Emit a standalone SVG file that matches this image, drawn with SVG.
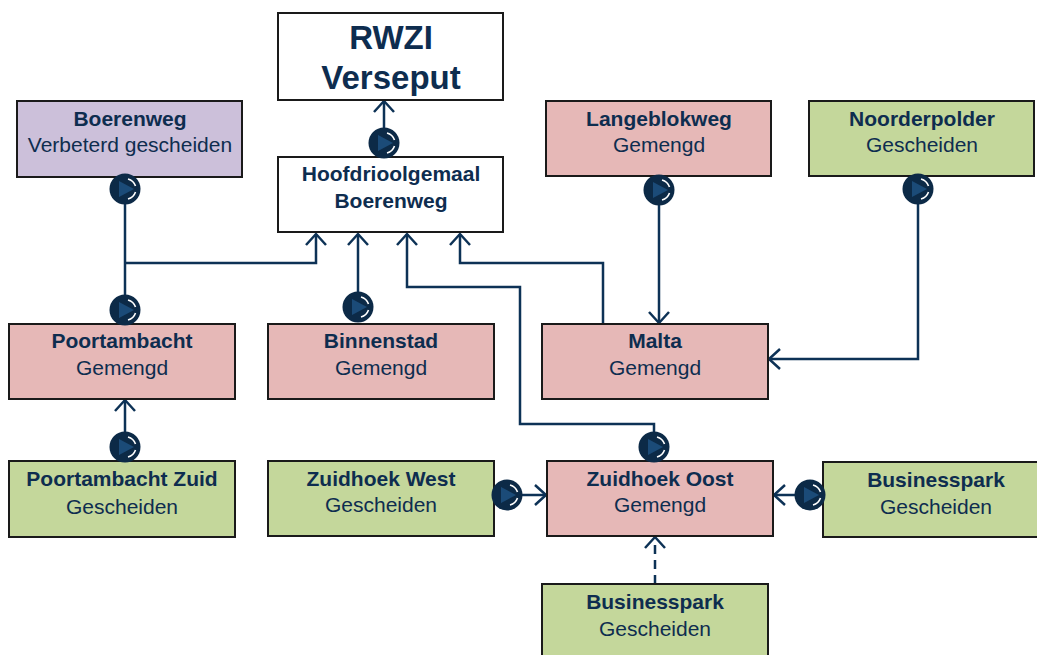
<svg xmlns="http://www.w3.org/2000/svg" xmlns:xlink="http://www.w3.org/1999/xlink" width="1037" height="655" viewBox="0 0 1037 655">
<style>
.box{stroke:#1a1a1a;stroke-width:2}
.white{fill:#ffffff}
.pink{fill:#e6b8b7}
.green{fill:#c4d79b}
.purple{fill:#ccc0da}
text{font-family:"Liberation Sans",Arial,sans-serif;fill:#0e2d4f;text-anchor:middle}
.b{font-weight:bold;font-size:21px}
.r{font-size:21px}
.big{font-weight:bold;font-size:33px}
.con{fill:none;stroke:#0d3256;stroke-width:2.5}
.dash{stroke-dasharray:9,6}
</style>
<defs>
<marker id="arr" markerUnits="userSpaceOnUse" markerWidth="24" markerHeight="24" refX="12" refY="12" orient="auto" viewBox="0 0 24 24">
<path d="M1,2 L12,12 L1,22" fill="none" stroke="#0d3256" stroke-width="2.5"/>
</marker>
<g id="pump">
<circle r="15.5" fill="#0c2a47"/>
<path d="M-6,-8 L9,0 L-6,8 Z" fill="#1b4b78"/>
<path d="M3,-10 A11,11 0 0 1 10.5,-3" fill="none" stroke="#ffffff" stroke-width="1.6"/>
<path d="M10.5,3 A11,11 0 0 1 3,10" fill="none" stroke="#ffffff" stroke-width="1.6"/>
</g>
</defs>

<g id="connectors">
<line class="con" x1="384" y1="143" x2="384" y2="101" marker-end="url(#arr)"/>
<polyline class="con" points="125,189 125,310"/>
<polyline class="con" points="125,263 316,263 316,234" marker-end="url(#arr)"/>
<line class="con" x1="358" y1="307" x2="358" y2="234" marker-end="url(#arr)"/>
<polyline class="con" points="603,323 603,263 460,263 460,234" marker-end="url(#arr)"/>
<polyline class="con" points="654,447 654,424 520,424 520,287 407,287 407,234" marker-end="url(#arr)"/>
<line class="con" x1="659" y1="190" x2="659" y2="323" marker-end="url(#arr)"/>
<polyline class="con" points="918,189 918,359 769,359" marker-end="url(#arr)"/>
<line class="con" x1="125" y1="447" x2="125" y2="400" marker-end="url(#arr)"/>
<line class="con" x1="507" y1="495" x2="546" y2="495" marker-end="url(#arr)"/>
<line class="con" x1="810" y1="495" x2="774" y2="495" marker-end="url(#arr)"/>
<line class="con dash" x1="655" y1="584" x2="655" y2="537" marker-end="url(#arr)"/>
</g>

<g id="rwzi">
<rect class="box white" x="278" y="13" width="225" height="87"/>
<text class="big" x="391" y="49">RWZI</text>
<text class="big" x="391" y="89">Verseput</text>
</g>
<g id="hoofdrioolgemaal">
<rect class="box white" x="278" y="157" width="225" height="75"/>
<text class="b" x="391" y="181">Hoofdrioolgemaal</text>
<text class="b" x="391" y="208">Boerenweg</text>
</g>
<g id="boerenweg">
<rect class="box purple" x="17" y="101" width="225" height="76"/>
<text class="b" x="130" y="126">Boerenweg</text>
<text class="r" x="130" y="152">Verbeterd gescheiden</text>
</g>
<g id="langeblokweg">
<rect class="box pink" x="546" y="101" width="225" height="75"/>
<text class="b" x="659" y="126">Langeblokweg</text>
<text class="r" x="659" y="152">Gemengd</text>
</g>
<g id="noorderpolder">
<rect class="box green" x="809" y="101" width="225" height="75"/>
<text class="b" x="922" y="126">Noorderpolder</text>
<text class="r" x="922" y="152">Gescheiden</text>
</g>
<g id="poortambacht">
<rect class="box pink" x="9" y="324" width="226" height="75"/>
<text class="b" x="122" y="348">Poortambacht</text>
<text class="r" x="122" y="375">Gemengd</text>
</g>
<g id="binnenstad">
<rect class="box pink" x="268" y="324" width="226" height="75"/>
<text class="b" x="381" y="348">Binnenstad</text>
<text class="r" x="381" y="375">Gemengd</text>
</g>
<g id="malta">
<rect class="box pink" x="542" y="324" width="226" height="75"/>
<text class="b" x="655" y="348">Malta</text>
<text class="r" x="655" y="375">Gemengd</text>
</g>
<g id="poortambacht-zuid">
<rect class="box green" x="9" y="461" width="226" height="76"/>
<text class="b" x="122" y="486">Poortambacht Zuid</text>
<text class="r" x="122" y="514">Gescheiden</text>
</g>
<g id="zuidhoek-west">
<rect class="box green" x="268" y="461" width="226" height="75"/>
<text class="b" x="381" y="486">Zuidhoek West</text>
<text class="r" x="381" y="512">Gescheiden</text>
</g>
<g id="zuidhoek-oost">
<rect class="box pink" x="547" y="461" width="226" height="75"/>
<text class="b" x="660" y="486">Zuidhoek Oost</text>
<text class="r" x="660" y="512">Gemengd</text>
</g>
<g id="businesspark-oost">
<rect class="box green" x="823" y="462" width="226" height="75"/>
<text class="b" x="936" y="487">Businesspark</text>
<text class="r" x="936" y="514">Gescheiden</text>
</g>
<g id="businesspark-zuid">
<rect class="box green" x="542" y="584" width="226" height="75"/>
<text class="b" x="655" y="609">Businesspark</text>
<text class="r" x="655" y="636">Gescheiden</text>
</g>

<g id="pumps">
<use xlink:href="#pump" href="#pump" x="384" y="143"/>
<use xlink:href="#pump" href="#pump" x="125" y="189"/>
<use xlink:href="#pump" href="#pump" x="125" y="310"/>
<use xlink:href="#pump" href="#pump" x="358" y="307"/>
<use xlink:href="#pump" href="#pump" x="659" y="190"/>
<use xlink:href="#pump" href="#pump" x="918" y="189"/>
<use xlink:href="#pump" href="#pump" x="125" y="447"/>
<use xlink:href="#pump" href="#pump" x="654" y="447"/>
<use xlink:href="#pump" href="#pump" x="507" y="495"/>
<use xlink:href="#pump" href="#pump" x="810" y="495"/>
</g>
</svg>
